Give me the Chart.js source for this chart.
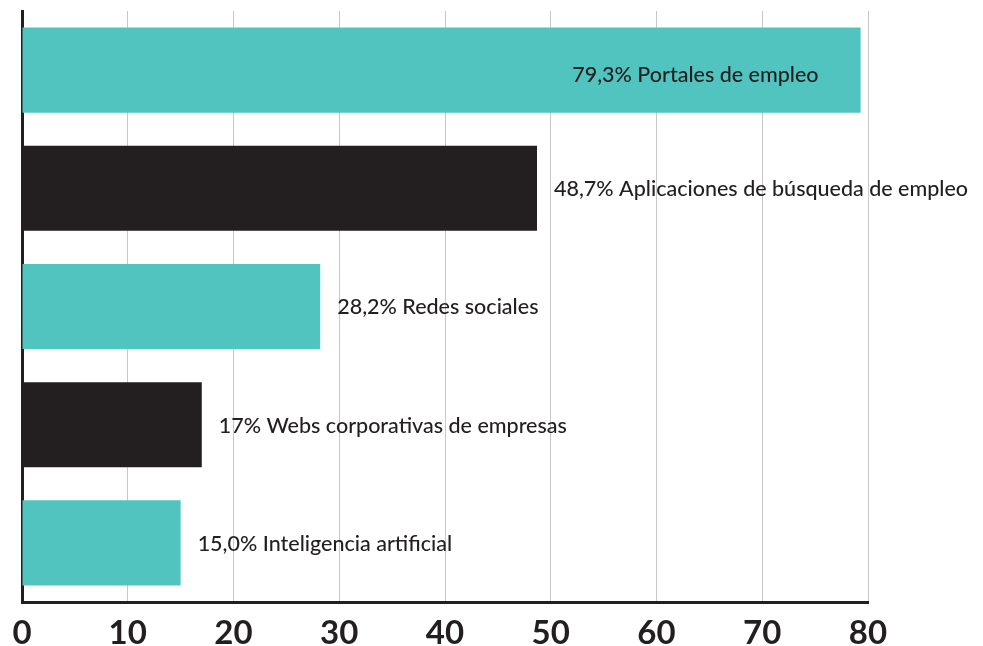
<!DOCTYPE html>
<html>
<head>
<meta charset="utf-8">
<script src="https://cdn.jsdelivr.net/npm/chart.js@4.4.1/dist/chart.umd.min.js"></script>
<style>
  html, body { margin: 0; padding: 0; background: #fff; }
  #wrap { width: 983px; height: 646px; }
</style>
</head>
<body>
<div id="wrap"><canvas id="myChart" width="983" height="646"></canvas></div>
<script>
const categories = [
    "Portales de empleo",
    "Aplicaciones de búsqueda de empleo",
    "Redes sociales",
    "Webs corporativas de empresas",
    "Inteligencia artificial"
];
const values = [79.3, 48.7, 28.2, 17, 15.0];
const valueTexts = ["79,3%", "48,7%", "28,2%", "17%", "15,0%"];
const tickValues = [0, 10, 20, 30, 40, 50, 60, 70, 80];

const TEAL = "#52c4c0";
const DARK = "#231f20";
const labelFont = "500 21.5px Lato, 'Noto Sans', sans-serif";

// draws "79,3% Portales de empleo" next to (or inside) each bar
const barLabels = {
    id: "barLabels",
    afterDatasetsDraw(chart) {
        const ctx = chart.ctx;
        const meta = chart.getDatasetMeta(0);
        ctx.save();
        ctx.font = labelFont;
        ctx.fillStyle = DARK;
        ctx.textBaseline = "middle";
        meta.data.forEach((bar, i) => {
            const text = valueTexts[i] + " " + categories[i];
            const w = ctx.measureText(text).width;
            if (bar.x + 15 + w > chart.width) {
                ctx.textAlign = "right";
                ctx.fillText(text, bar.x - 42, bar.y + 5);
            } else {
                ctx.textAlign = "left";
                ctx.fillText(text, bar.x + 17, bar.y + 1);
            }
        });
        ctx.restore();
    }
};

const ctx = document.getElementById("myChart").getContext("2d");
const myChart = new Chart(ctx, {
    type: "bar",
    data: {
        labels: categories,
        datasets: [
            {
                data: values,
                backgroundColor: values.map((v, i) => (i % 2 === 0 ? TEAL : DARK)),
                borderWidth: 0,
                categoryPercentage: 1,
                barPercentage: 0.72,
            }
        ],
    },
    options: {
        indexAxis: "y",
        responsive: false,
        animation: false,
        layout: {
            padding: { top: 11, right: 115, bottom: 0, left: 0 }
        },
        plugins: {
            legend: { display: false },
            tooltip: { enabled: false },
        },
        scales: {
            x: {
                min: 0,
                max: 80,
                afterBuildTicks(scale) {
                    scale.ticks = tickValues.map(v => ({ value: v }));
                },
                afterFit(scale) {
                    scale.height = 44;
                },
                grid: {
                    color: "#c8c8c8",
                    lineWidth: 1,
                    drawTicks: false,
                },
                border: { display: true, color: DARK, width: 3 },
                ticks: {
                    padding: 12,
                    color: DARK,
                    font: { family: "Lato, 'Noto Sans', sans-serif", size: 33, weight: "bold" },
                    maxRotation: 0,
                },
            },
            y: {
                afterFit(scale) {
                    scale.width = 22;
                },
                grid: { display: false, drawTicks: false },
                border: { display: true, color: DARK, width: 3 },
                ticks: { display: false },
            },
        },
    },
    plugins: [barLabels],
});
</script>
</body>
</html>
